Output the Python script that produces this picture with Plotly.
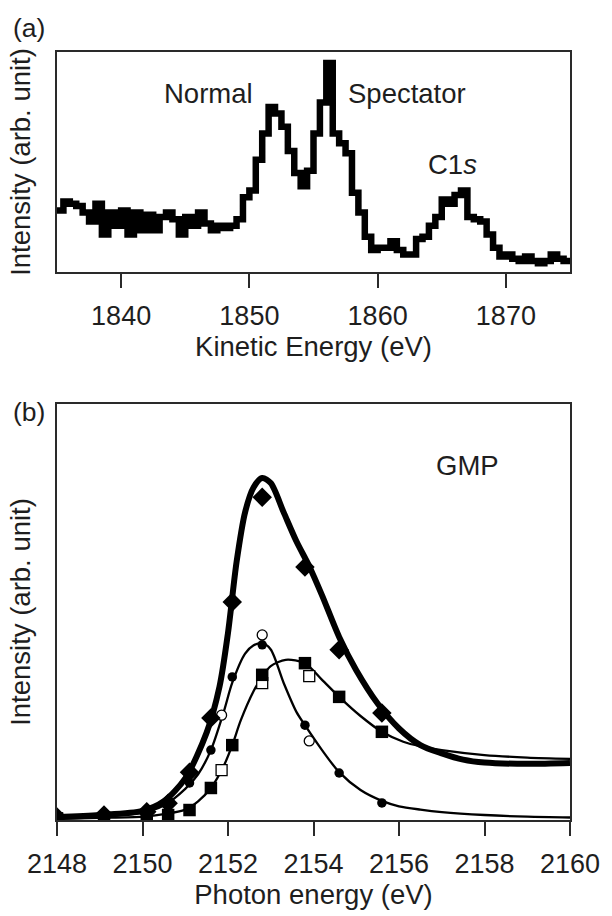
import plotly.graph_objects as go

# ---------------- Panel (a): Auger spectrum ----------------
ke_energy = [1835.0 + 0.5 * i for i in range(81)]
ke_intensity = [
    0.28, 0.32, 0.31, 0.30, 0.27, 0.23, 0.31, 0.17, 0.27, 0.21,
    0.28, 0.17, 0.27, 0.19, 0.26, 0.19, 0.25, 0.27, 0.24, 0.17,
    0.25, 0.21, 0.27, 0.22, 0.19, 0.21, 0.20, 0.21, 0.24, 0.34,
    0.37, 0.51, 0.63, 0.75, 0.72, 0.66, 0.55, 0.45, 0.39, 0.46,
    0.63, 0.77, 0.95, 0.63, 0.585, 0.54, 0.36, 0.27, 0.16, 0.10,
    0.11, 0.11, 0.14, 0.10, 0.08, 0.08, 0.15, 0.16, 0.21, 0.25,
    0.33, 0.31, 0.35, 0.37, 0.25, 0.24, 0.23, 0.17, 0.11, 0.07,
    0.08, 0.06, 0.05, 0.07, 0.05, 0.04, 0.05, 0.08, 0.06, 0.05,
    0.06,
]
peak_labels = ["Normal", "Spectator", "C1<i>s</i>"]
peak_label_x = [1846.8, 1862.3, 1865.8]
peak_label_y = [0.81, 0.81, 0.49]

# ---------------- Panel (b): photon energy dependence ----------------
# thick fitted curve (total) and diamonds
fit_total_x = [2148.0, 2149.0, 2150.0, 2150.5, 2151.0, 2151.5, 2151.8, 2152.0,
               2152.2, 2152.4, 2152.6, 2152.8, 2153.0, 2153.3, 2153.6, 2153.9,
               2154.2, 2154.6, 2155.0, 2155.5, 2156.0, 2156.5, 2157.0, 2157.5,
               2158.0, 2159.0, 2160.0]
fit_total_y = [0.007, 0.012, 0.022, 0.045, 0.10, 0.21, 0.32, 0.45,
               0.62, 0.74, 0.80, 0.822, 0.81, 0.74, 0.67, 0.61,
               0.54, 0.44, 0.36, 0.28, 0.22, 0.18, 0.16, 0.145,
               0.138, 0.135, 0.137]
diamond_x = [2148.0, 2149.1, 2150.1, 2150.6, 2151.1, 2151.6, 2152.1, 2152.8,
             2153.8, 2154.6, 2155.6]
diamond_y = [0.007, 0.012, 0.02, 0.04, 0.115, 0.245, 0.524, 0.776,
             0.608, 0.409, 0.257]

# thin curve through circles (normal)
fit_normal_x = [2148.0, 2149.0, 2150.0, 2150.5, 2151.0, 2151.3, 2151.6, 2151.9,
                2152.1, 2152.4, 2152.6, 2152.8, 2153.0, 2153.3, 2153.6, 2153.8,
                2154.2, 2154.6, 2155.1, 2155.6, 2156.0, 2156.5, 2157.0, 2158.0,
                2159.0, 2160.0]
fit_normal_y = [0.005, 0.008, 0.018, 0.035, 0.075, 0.11, 0.168, 0.26,
                0.33, 0.40, 0.42, 0.425, 0.41, 0.33, 0.26, 0.228,
                0.168, 0.115, 0.072, 0.046, 0.033, 0.025, 0.019, 0.012,
                0.008, 0.006]
circle_x = [2148.0, 2149.1, 2150.1, 2150.6, 2151.1, 2151.6, 2152.1, 2152.8,
            2153.8, 2154.6, 2155.6]
circle_y = [0.005, 0.007, 0.015, 0.035, 0.089, 0.168, 0.344, 0.421,
            0.228, 0.113, 0.041]
open_circle_x = [2151.85, 2152.8, 2153.9]
open_circle_y = [0.252, 0.445, 0.190]

# thin curve through squares (spectator)
fit_spect_x = [2148.0, 2149.0, 2150.0, 2150.5, 2151.0, 2151.3, 2151.6, 2151.9,
               2152.1, 2152.3, 2152.6, 2152.8, 2153.0, 2153.35, 2153.8, 2154.2,
               2154.6, 2155.1, 2155.6, 2156.1, 2156.5, 2157.0, 2158.0, 2159.0,
               2160.0]
fit_spect_y = [0.003, 0.005, 0.008, 0.014, 0.025, 0.045, 0.077, 0.13,
               0.18, 0.24, 0.31, 0.345, 0.37, 0.385, 0.377, 0.337,
               0.296, 0.25, 0.212, 0.188, 0.177, 0.168, 0.156, 0.15,
               0.147]
square_x = [2148.0, 2149.1, 2150.1, 2150.6, 2151.1, 2151.6, 2152.1, 2152.8,
            2153.8, 2154.6, 2155.6]
square_y = [0.004, 0.005, 0.008, 0.012, 0.024, 0.077, 0.18, 0.349,
            0.377, 0.296, 0.212]
open_square_x = [2151.85, 2152.8, 2153.9]
open_square_y = [0.12, 0.329, 0.346]

tick_a = [1840, 1850, 1860, 1870]
tick_b = [2148, 2150, 2152, 2154, 2156, 2158, 2160]

FONT = "Liberation Sans, Arial, Helvetica, sans-serif"
BLACK = "#000000"
FRAME = "#2a2a2a"
TXT = "#1e1e1e"
FS = 27.5

# plot-area geometry in pixels (for placing panel letters)
L, R, T, B = 57, 583, 52, 820
W, H = R - L, B - T

fig = go.Figure()

# panel (a)
fig.add_trace(go.Scatter(x=ke_energy, y=ke_intensity, mode="lines",
                         line=dict(color=BLACK, width=6.5, shape="hv"),
                         xaxis="x", yaxis="y", showlegend=False))

# panel (b) curves
fig.add_trace(go.Scatter(x=fit_normal_x, y=fit_normal_y, mode="lines",
                         line=dict(color=BLACK, width=2.3, shape="spline", smoothing=0.8),
                         xaxis="x2", yaxis="y2", showlegend=False))
fig.add_trace(go.Scatter(x=fit_spect_x, y=fit_spect_y, mode="lines",
                         line=dict(color=BLACK, width=2.3, shape="spline", smoothing=0.8),
                         xaxis="x2", yaxis="y2", showlegend=False))
fig.add_trace(go.Scatter(x=fit_total_x, y=fit_total_y, mode="lines",
                         line=dict(color=BLACK, width=6, shape="spline", smoothing=0.8),
                         xaxis="x2", yaxis="y2", showlegend=False))

# panel (b) markers
fig.add_trace(go.Scatter(x=open_circle_x, y=open_circle_y, mode="markers",
                         marker=dict(symbol="circle", size=10, color="white",
                                     line=dict(color=BLACK, width=1.3)),
                         xaxis="x2", yaxis="y2", showlegend=False))
fig.add_trace(go.Scatter(x=open_square_x, y=open_square_y, mode="markers",
                         marker=dict(symbol="square", size=11, color="white",
                                     line=dict(color=BLACK, width=1.3)),
                         xaxis="x2", yaxis="y2", showlegend=False))
fig.add_trace(go.Scatter(x=square_x, y=square_y, mode="markers",
                         marker=dict(symbol="square", size=12.5, color=BLACK),
                         xaxis="x2", yaxis="y2", showlegend=False))
fig.add_trace(go.Scatter(x=circle_x, y=circle_y, mode="markers",
                         marker=dict(symbol="circle", size=9.5, color=BLACK),
                         xaxis="x2", yaxis="y2", showlegend=False))
fig.add_trace(go.Scatter(x=diamond_x, y=diamond_y, mode="markers",
                         marker=dict(symbol="diamond", size=15, color=BLACK),
                         xaxis="x2", yaxis="y2", showlegend=False))

axis_common = dict(showline=True, linecolor=FRAME, linewidth=2.2, mirror=True,
                   showgrid=False, zeroline=False)

annotations = []
for t, x, y in zip(peak_labels, peak_label_x, peak_label_y):
    annotations.append(dict(text=t, x=x, y=y, xref="x", yref="y", showarrow=False,
                            font=dict(size=FS, color=TXT)))
annotations.append(dict(text="GMP", x=2157.6, y=0.851, xref="x2", yref="y2",
                        showarrow=False, font=dict(size=FS, color=TXT)))
for lab, px, py in [("(a)", 28, 28), ("(b)", 28, 412)]:
    annotations.append(dict(text=lab, x=(px - L) / W, y=(B - py) / H,
                            xref="paper", yref="paper", xanchor="center", yanchor="middle",
                            showarrow=False, font=dict(size=FS - 1, color=TXT)))

fig.update_layout(
    width=612, height=916,
    margin=dict(l=L, r=612 - R, t=T, b=916 - B),
    paper_bgcolor="white", plot_bgcolor="white",
    font=dict(family=FONT, size=FS, color=TXT),
    xaxis=dict(domain=[0, 1], range=[1835, 1875], anchor="y",
               tickmode="array", tickvals=tick_a,
               ticks="outside", ticklen=14, tickwidth=2.2, tickcolor=FRAME,
               tickfont=dict(size=FS - 0.5), ticklabelstandoff=4,
               ticklabeloverflow="allow",
               title=dict(text="Kinetic Energy (eV)", font=dict(size=FS), standoff=6),
               **axis_common),
    yaxis=dict(domain=[(B - 272) / H, 1.0], range=[0, 1], anchor="x",
               showticklabels=False, ticks="",
               title=dict(text="Intensity (arb. unit)", font=dict(size=FS), standoff=16),
               **axis_common),
    xaxis2=dict(domain=[0, 1], range=[2148, 2160], anchor="y2",
                tickmode="array", tickvals=tick_b,
                ticks="outside", ticklen=14, tickwidth=2.2, tickcolor=FRAME,
                tickfont=dict(size=FS - 0.5), ticklabelstandoff=4,
                ticklabeloverflow="allow",
                title=dict(text="Photon energy (eV)", font=dict(size=FS), standoff=6),
                **axis_common),
    yaxis2=dict(domain=[0, (B - 404) / H], range=[0, 1], anchor="x2",
                showticklabels=False, ticks="",
                title=dict(text="Intensity (arb. unit)", font=dict(size=FS), standoff=16),
                **axis_common),
    annotations=annotations,
)

fig.write_html("out.html")
